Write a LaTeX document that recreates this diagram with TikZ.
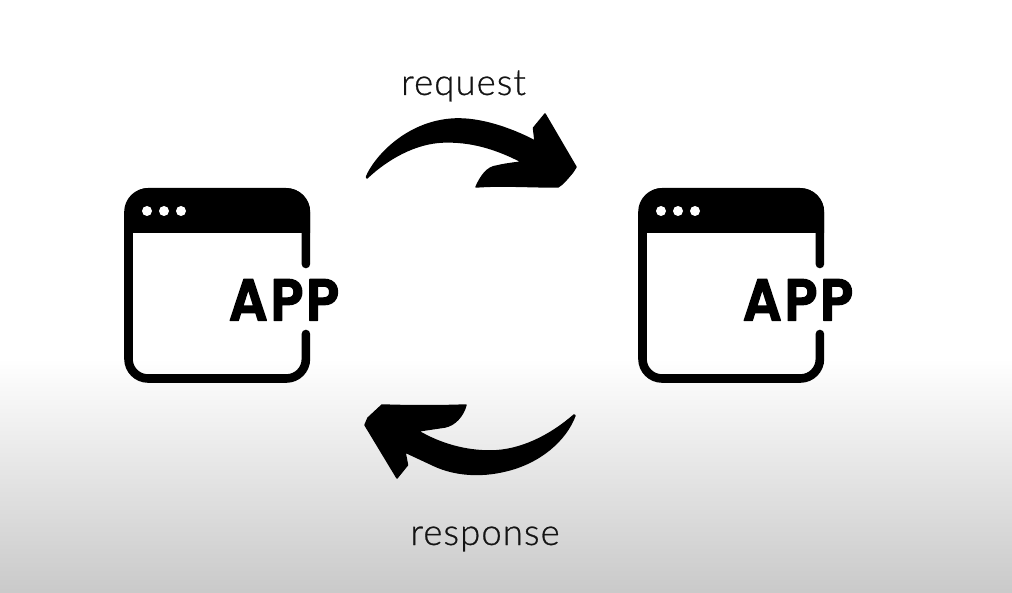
\documentclass[tikz,border=0pt]{standalone}
\usepackage{fontspec}
\setmainfont[FakeBold=0.7]{Lato Light}
\newfontfamily\appfont[FakeBold=2.5,LetterSpace=5]{Poppins SemiBold}
\definecolor{inkblack}{gray}{0.0}
\definecolor{labelink}{gray}{0.08}
\tikzset{
  frameline/.style={draw=inkblack,line width=8.6pt,line cap=round},
  solidshape/.style={fill=inkblack,draw=inkblack,line width=1.5pt,line join=round},
  windowdot/.style={circle,fill=white,minimum size=10pt,inner sep=0pt},
  applabel/.style={inner sep=0pt,text=inkblack,font=\appfont\fontsize{59}{60}\selectfont,anchor=base,xscale=0.92},
  flowlabel/.style={inner sep=0pt,text=labelink,font=\fontsize{36.5}{40}\selectfont\addfontfeature{LetterSpace=3},anchor=base}
}
\newcommand{\appwindow}[2]{%
  \begin{scope}[xshift=#1pt]
    \path[frameline] (305.9,264) -- (305.9,212) arc[start angle=0,end angle=90,radius=19.5pt]
      -- (148,192.4) arc[start angle=90,end angle=180,radius=19.5pt]
      -- (128.5,359) arc[start angle=180,end angle=270,radius=19.5pt]
      -- (286.4,378.5) arc[start angle=270,end angle=360,radius=19.5pt] -- (305.9,334);
    \path[fill=inkblack] (128,233) -- (128,208) arc[start angle=180,end angle=90,radius=20pt]
      -- (286,188) arc[start angle=90,end angle=0,radius=24pt] -- (310,233) -- cycle;
    \node[windowdot] (#2d1) at (147,211) {};
    \node[windowdot] (#2d2) at (164,211) {};
    \node[windowdot] (#2d3) at (181,211) {};
    \node[applabel] (#2app) at (284,320.5) {\special{pdf:code 1 j 1 J}APP};
  \end{scope}}
\begin{document}
\begin{tikzpicture}[x=1pt,y=-1pt]
  \useasboundingbox (0,0) rectangle (1012,593);
  \fill[white] (0,0) rectangle (1012,593);
  \shade[top color=white,bottom color=black!21] (0,358) rectangle (1012,593);
  \appwindow{0}{a}
  \appwindow{514}{b}
  % request arrow
  \path[solidshape] (366.5,177)
    .. controls (373,160) and (405,121) .. (455,119)
    .. controls (480,118) and (510,128) .. (535,141)
    -- (533.5,128) -- (545,114) -- (576,167) -- (572.5,172.5)
    .. controls (566,180) and (563,184) .. (558,187)
    .. controls (530,187) and (500,185) .. (476,187)
    .. controls (481,176) and (487,167) .. (497,166)
    .. controls (505,164) and (514,163) .. (522,162)
    .. controls (495,148) and (470,141) .. (443,142)
    .. controls (415,143) and (387,159) .. (367,178) -- cycle;
  % response arrow
  \path[solidshape] (575,415.5)
    .. controls (566,440) and (540,463) .. (505,471)
    .. controls (480,477) and (455,475) .. (435,466)
    -- (405,452) -- (407.5,465) -- (397,478) -- (365,425) -- (368,418)
    -- (382,405)
    .. controls (410,406) and (440,406) .. (466,405)
    .. controls (463,416) and (455,425) .. (445,427)
    -- (418,431)
    .. controls (440,444) and (465,451) .. (490,451)
    .. controls (520,451) and (550,436) .. (574,415) -- cycle;
  \node[flowlabel] (req) at (463.5,95) {request};
  \node[flowlabel] (resp) at (485,545) {response};
\end{tikzpicture}
\end{document}
